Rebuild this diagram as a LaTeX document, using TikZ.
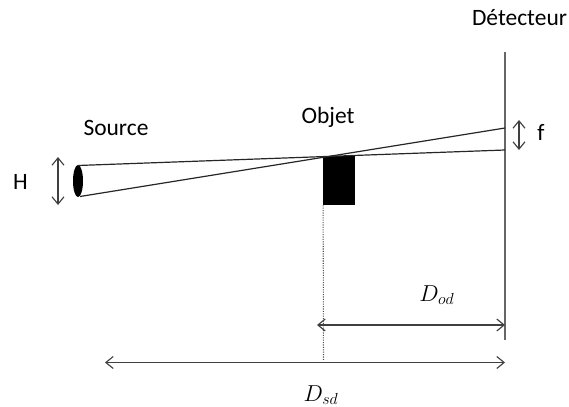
\documentclass[tikz,border=0pt]{standalone}
\usepackage{fontspec}
\setmainfont{Carlito}
\usetikzlibrary{arrows.meta,shapes.geometric}
\tikzset{
  x=0.75pt,y=-0.75pt,
  lbl/.style={inner sep=0pt,anchor=base,font=\fontsize{17.6pt}{20pt}\selectfont,text=black},
  mathlbl/.style={inner sep=0pt,anchor=base,font=\fontsize{17.5pt}{20pt}\selectfont},
  ray/.style={line width=0.9pt,draw=black!85},
  wall/.style={line width=1pt,draw=black!60},
  dim/.style={line width=0.85pt,draw=black!75,{Straight Barb[length=5.5pt,width=9pt]}-{Straight Barb[length=5.5pt,width=9pt]}},
  fine/.style={line width=0.8pt,draw=black!70,densely dotted}
}
\begin{document}
\begin{tikzpicture}
\useasboundingbox (0,0) rectangle (569,407);
\coordinate (detTop) at (505,52);
\coordinate (detBot) at (505,340);
\coordinate (rayA) at (78,165.5);
\coordinate (rayB) at (80,196.5);
\coordinate (hitA) at (505,150);
\coordinate (hitB) at (505,128);
\coordinate (hT) at (58,157);
\coordinate (hB) at (58,205);
\coordinate (fT) at (519,120);
\coordinate (fB) at (519,150);
\coordinate (odL) at (317,325);
\coordinate (odR) at (505,325);
\coordinate (sdL) at (105,362.5);
\coordinate (sdR) at (505,362.5);
\coordinate (dotB) at (323.5,361);
\node[fill=black,draw=none,minimum width=24pt,minimum height=36.75pt,inner sep=0pt] (obj) at (339,180.5) {};
\node[ellipse,fill=black,draw=none,minimum width=7.5pt,minimum height=24pt,inner sep=0pt] (src) at (78,181) {};
\draw[wall] (detTop) -- (detBot);
\draw[ray] (rayA) -- (hitA);
\draw[ray] (rayB) -- (hitB);
\draw[fine] (obj.south west) ++(0.4,0) -- (dotB);
\draw[dim] (hT) -- (hB);
\draw[dim] (fT) -- (fB);
\draw[dim] (odL) -- (odR);
\draw[dim] (sdL) -- (sdR);
\node[lbl] (source) at (116,135) {Source};
\node[lbl] (h) at (20.5,189) {H};
\node[lbl] (objet) at (328,123) {Objet};
\node[lbl] (f) at (541,140) {f};
\node[lbl] (det) at (519.5,26) {Détecteur};
\node[mathlbl] (dod) at (437,301) {$D_{od}$};
\node[mathlbl] (dsd) at (321,401) {$D_{sd}$};
\end{tikzpicture}
\end{document}
